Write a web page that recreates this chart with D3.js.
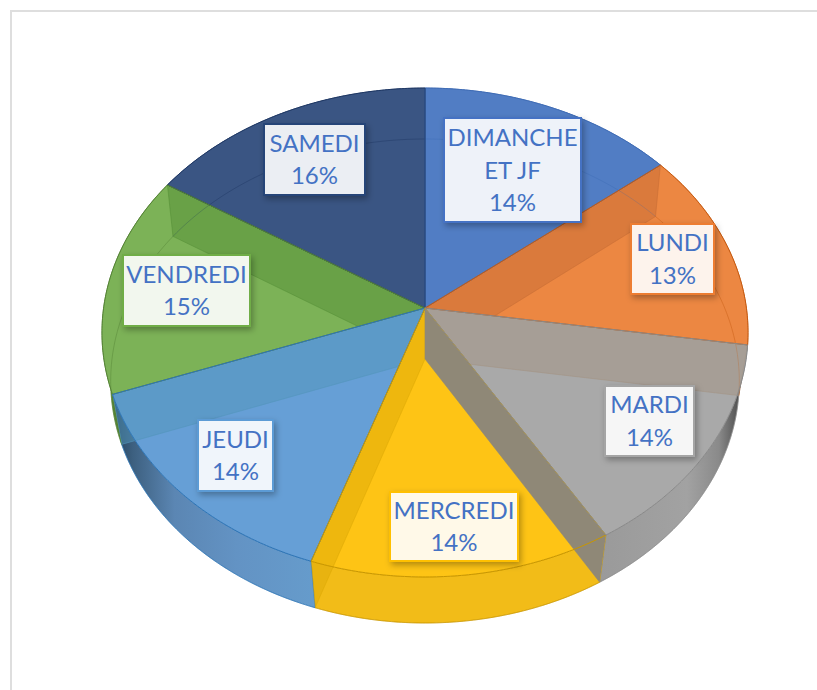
<!DOCTYPE html>
<html>
<head>
<meta charset="utf-8">
<script src="https://cdn.jsdelivr.net/npm/d3@7"></script>
<style>
  html, body { margin: 0; padding: 0; background: #fff; }
  svg { display: block; }
</style>
</head>
<body>
<div id="chart"></div>
<script>
// values
const days = ["DIMANCHE ET JF", "LUNDI", "MARDI", "MERCREDI", "JEUDI", "VENDREDI", "SAMEDI"];
const shares = [0.142, 0.132, 0.140, 0.138, 0.142, 0.146, 0.160];

// styles
const topColors = ["#517dc4", "#ec8742", "#a9a9a9", "#fec415", "#669fd6", "#7cb257", "#3a5583"];
const baseColors = ["#4472c4", "#ed7d31", "#a5a5a5", "#ffc000", "#5b9bd5", "#70ad47", "#264478"];
const edgeColors = ["#3f6cb5", "#c55a11", "#8a8a8a", "#c99700", "#2e75b6", "#548235", "#1f3864"];
const wallColors = ["#3f6cb5", "#c55a11", "url(#wall-mardi)", "#f2bc18", "url(#wall-jeudi)", "#548235", "#1f3864"];
// outline order, the later slice owns the shared edge
const strokeOrder = [0, 6, 5, 4, 1, 3, 2];

// label boxes were placed by hand in the original: x, y, w, h
const labelBoxes = [
    [444, 118, 137, 104],
    [631, 224, 83, 70],
    [605, 386, 89, 70],
    [390, 492, 128, 69],
    [198, 420, 75, 71],
    [123, 255, 127, 71],
    [264, 124, 101, 71]
];
const labelLines = [["DIMANCHE", "ET JF"], ["LUNDI"], ["MARDI"], ["MERCREDI"], ["JEUDI"], ["VENDREDI"], ["SAMEDI"]];

const width = 817, height = 690;
const cx = 425;
// perspective planes of the top and of the bottom of the disc
const topPlane = { cy: 308, a: 321.4, b: 242, k: 0.1002 };
const botPlane = { cy: 359, a: 313, b: 240, k: 0.0909 };

function project(angle, p) {
    const u = Math.sin(angle), v = -Math.cos(angle);
    const w = 1 - p.k * v;
    return [cx + p.a * u / w, p.cy + p.b * v / w];
}
function arcPoints(a0, a1, p) {
    const n = Math.max(2, Math.ceil((a1 - a0) / 0.01));
    return d3.range(n + 1).map(i => project(a0 + (a1 - a0) * i / n, p));
}

const line = d3.line();
const closed = pts => line(pts) + "Z";
const arcs = d3.pie().value(d => d).sort(null).startAngle(0).endAngle(2 * Math.PI)(shares);

const sectorPath = (d, p) => closed([[cx, p.cy]].concat(arcPoints(d.startAngle, d.endAngle, p)));
const wallPath = d => closed(arcPoints(d.startAngle, d.endAngle, topPlane).concat(arcPoints(d.startAngle, d.endAngle, botPlane).reverse()));

const svg = d3.select("#chart").append("svg").attr("width", width).attr("height", height);
const defs = svg.append("defs");

// side wall shading
function addGradient(id, x1, x2, stops) {
    const g = defs.append("linearGradient").attr("id", id)
        .attr("gradientUnits", "userSpaceOnUse")
        .attr("x1", x1).attr("x2", x2).attr("y1", 0).attr("y2", 0);
    stops.forEach(s => g.append("stop").attr("offset", s[0]).attr("stop-color", s[1]));
}
addGradient("wall-mardi", 600, 745, [[0, "#9a9a9a"], [0.6, "#a2a2a2"], [0.82, "#8a8a8a"], [0.94, "#585858"], [1, "#333333"]]);
addGradient("wall-jeudi", 112, 320, [[0, "#24405a"], [0.1, "#3d6080"], [0.3, "#5b86b3"], [0.6, "#6393c4"], [1, "#669ccc"]]);

const shadow = defs.append("filter").attr("id", "box-shadow")
    .attr("x", "-20%").attr("y", "-20%").attr("width", "140%").attr("height", "140%");
shadow.append("feDropShadow").attr("dx", 2).attr("dy", 3).attr("stdDeviation", 3)
    .attr("flood-color", "#000").attr("flood-opacity", 0.3);

// frame of the screenshot
svg.append("path").attr("d", `M11,${height}V11H${width}`)
    .attr("fill", "none").attr("stroke", "#dedede").attr("stroke-width", 2);

// outer walls
svg.append("g").selectAll("path").data(arcs).enter().append("path")
    .attr("d", wallPath)
    .attr("fill", (d, i) => wallColors[i])
    .attr("stroke", (d, i) => edgeColors[i])
    .attr("stroke-width", 0.6);

// top faces
svg.append("g").selectAll("path").data(arcs).enter().append("path")
    .attr("d", d => sectorPath(d, topPlane))
    .attr("fill", (d, i) => topColors[i]);

// floor of the disc seen through the top
svg.append("g").selectAll("path").data(arcs).enter().append("path")
    .attr("d", d => line(arcPoints(d.startAngle, d.endAngle, botPlane)))
    .attr("fill", "none")
    .attr("stroke", (d, i) => edgeColors[i])
    .attr("stroke-opacity", 0.45)
    .attr("stroke-width", 1);

// inner cut walls, each one seen through the slice it falls in
const cutWalls = [
    { edge: 1, slice: 1, fill: "#c86d36", opacity: 0.5 },
    { edge: 2, slice: 2, fill: "#a39383", opacity: 0.5 },
    { edge: 4, slice: 3, fill: "#deaa07", opacity: 0.5 },
    { edge: 3, slice: 3, fill: "#8f8877", opacity: 1 },
    { edge: 5, slice: 4, fill: "#5295ba", opacity: 0.5 },
    { edge: 6, slice: 5, fill: "#569037", opacity: 0.5 }
];
cutWalls.forEach((c, i) => {
    const slice = arcs[c.slice];
    const a = arcs[c.edge].startAngle;
    defs.append("clipPath").attr("id", "cut-" + i)
        .append("path").attr("d", sectorPath(slice, topPlane) + wallPath(slice));
    svg.append("path")
        .attr("clip-path", `url(#cut-${i})`)
        .attr("d", closed([[cx, topPlane.cy], project(a, topPlane), project(a, botPlane), [cx, botPlane.cy]]))
        .attr("fill", c.fill)
        .attr("fill-opacity", c.opacity)
        .attr("stroke", c.fill)
        .attr("stroke-opacity", 0.8)
        .attr("stroke-width", 0.7);
});

// slice outlines
svg.append("g").selectAll("path").data(strokeOrder).enter().append("path")
    .attr("d", i => sectorPath(arcs[i], topPlane))
    .attr("fill", "none")
    .attr("stroke", i => edgeColors[i])
    .attr("stroke-width", 1);

// labels
const fmt = d3.format(".0%");
const label = svg.append("g").selectAll("g").data(days).enter().append("g")
    .attr("transform", (d, i) => `translate(${labelBoxes[i][0]},${labelBoxes[i][1]})`);
label.append("rect")
    .attr("width", (d, i) => labelBoxes[i][2])
    .attr("height", (d, i) => labelBoxes[i][3])
    .attr("fill", (d, i) => d3.interpolateRgb(topColors[i], "#fff")(0.9))
    .attr("stroke", (d, i) => baseColors[i])
    .attr("stroke-width", 2)
    .attr("filter", "url(#box-shadow)");
label.each(function(d, i) {
    const box = labelBoxes[i];
    const rows = labelLines[i].concat(fmt(shares[i]));
    const t = d3.select(this).selectAll("text").data(rows).enter().append("text")
        .attr("x", box[2] / 2)
        .attr("y", (r, j) => box[3] / 2 + (j - (rows.length - 1) / 2) * 32.7 + 8.5)
        .attr("text-anchor", "middle")
        .attr("font-family", "Lato, 'Open Sans', sans-serif")
        .attr("font-size", 24)
        .attr("fill", "#4472c4")
        .text(r => r);
});
</script>
</body>
</html>
